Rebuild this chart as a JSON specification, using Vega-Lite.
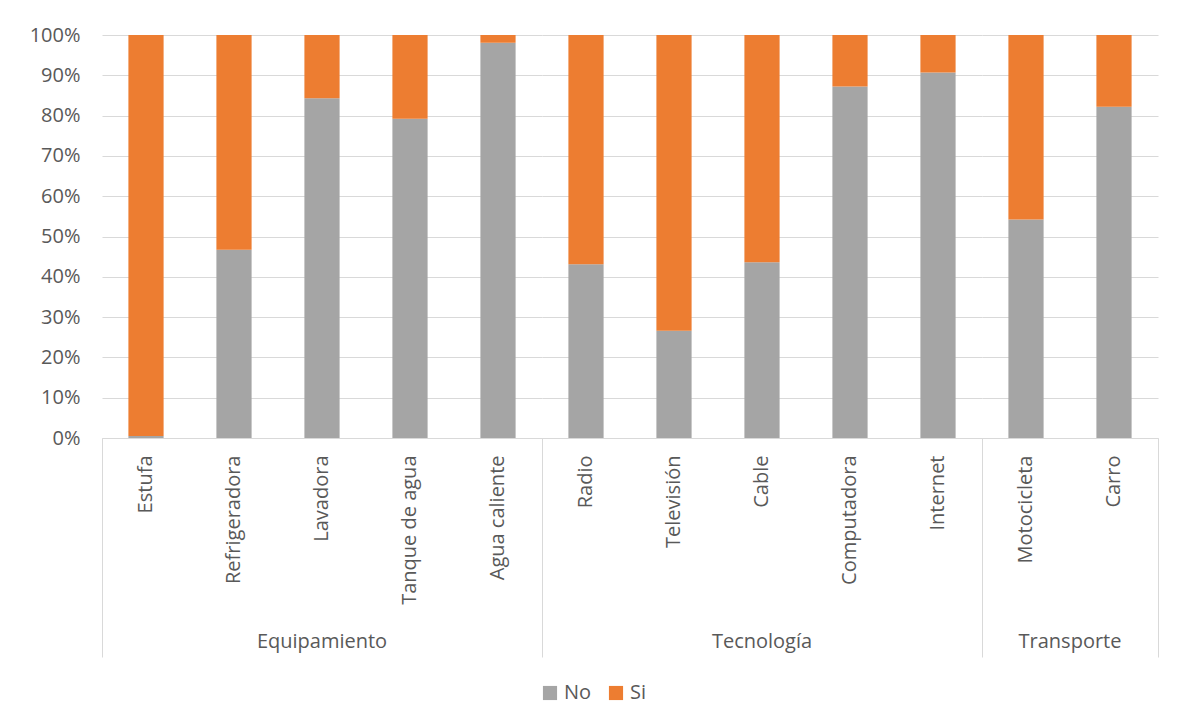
{
  "$schema": "https://vega.github.io/schema/vega-lite/v6.json",
  "background": "white",
  "padding": {"left": 29, "top": 25, "right": 19, "bottom": 10},
  "bounds": "flush",
  "data": {
    "values": [
      {"grupo": "Equipamiento", "articulo": "Estufa", "orden": 1, "respuesta": "No", "pct": 0.005},
      {"grupo": "Equipamiento", "articulo": "Estufa", "orden": 1, "respuesta": "Si", "pct": 0.995},
      {"grupo": "Equipamiento", "articulo": "Refrigeradora", "orden": 2, "respuesta": "No", "pct": 0.467},
      {"grupo": "Equipamiento", "articulo": "Refrigeradora", "orden": 2, "respuesta": "Si", "pct": 0.533},
      {"grupo": "Equipamiento", "articulo": "Lavadora", "orden": 3, "respuesta": "No", "pct": 0.843},
      {"grupo": "Equipamiento", "articulo": "Lavadora", "orden": 3, "respuesta": "Si", "pct": 0.157},
      {"grupo": "Equipamiento", "articulo": "Tanque de agua", "orden": 4, "respuesta": "No", "pct": 0.792},
      {"grupo": "Equipamiento", "articulo": "Tanque de agua", "orden": 4, "respuesta": "Si", "pct": 0.208},
      {"grupo": "Equipamiento", "articulo": "Agua caliente", "orden": 5, "respuesta": "No", "pct": 0.981},
      {"grupo": "Equipamiento", "articulo": "Agua caliente", "orden": 5, "respuesta": "Si", "pct": 0.019},
      {"grupo": "Tecnología", "articulo": "Radio", "orden": 6, "respuesta": "No", "pct": 0.431},
      {"grupo": "Tecnología", "articulo": "Radio", "orden": 6, "respuesta": "Si", "pct": 0.569},
      {"grupo": "Tecnología", "articulo": "Televisión", "orden": 7, "respuesta": "No", "pct": 0.266},
      {"grupo": "Tecnología", "articulo": "Televisión", "orden": 7, "respuesta": "Si", "pct": 0.734},
      {"grupo": "Tecnología", "articulo": "Cable", "orden": 8, "respuesta": "No", "pct": 0.436},
      {"grupo": "Tecnología", "articulo": "Cable", "orden": 8, "respuesta": "Si", "pct": 0.564},
      {"grupo": "Tecnología", "articulo": "Computadora", "orden": 9, "respuesta": "No", "pct": 0.872},
      {"grupo": "Tecnología", "articulo": "Computadora", "orden": 9, "respuesta": "Si", "pct": 0.128},
      {"grupo": "Tecnología", "articulo": "Internet", "orden": 10, "respuesta": "No", "pct": 0.907},
      {"grupo": "Tecnología", "articulo": "Internet", "orden": 10, "respuesta": "Si", "pct": 0.093},
      {"grupo": "Transporte", "articulo": "Motocicleta", "orden": 11, "respuesta": "No", "pct": 0.542},
      {"grupo": "Transporte", "articulo": "Motocicleta", "orden": 11, "respuesta": "Si", "pct": 0.458},
      {"grupo": "Transporte", "articulo": "Carro", "orden": 12, "respuesta": "No", "pct": 0.822},
      {"grupo": "Transporte", "articulo": "Carro", "orden": 12, "respuesta": "Si", "pct": 0.178}
    ]
  },
  "facet": {
    "column": {
      "field": "grupo",
      "type": "nominal",
      "sort": ["Equipamiento", "Tecnología", "Transporte"],
      "header": {
        "title": null,
        "labelOrient": "bottom",
        "labelFont": "Open Sans",
        "labelFontSize": 20,
        "labelColor": "#595959",
        "labelPadding": 194
      }
    }
  },
  "spacing": 0,
  "resolve": {"scale": {"x": "independent"}},
  "spec": {
    "width": {"step": 88},
    "height": 403,
    "mark": {"type": "bar", "width": {"band": 0.4}},
    "encoding": {
      "x": {
        "field": "articulo",
        "type": "nominal",
        "sort": {"field": "orden"},
        "scale": {"paddingInner": 0, "paddingOuter": 0},
        "axis": {
          "title": null,
          "labelAngle": 270,
          "labelFont": "Open Sans",
          "labelFontSize": 20,
          "labelColor": "#595959",
          "domainColor": "#d9d9d9",
          "domainWidth": 1,
          "bandPosition": 1,
          "tickExtra": true,
          "tickSize": 219,
          "tickWidth": 1,
          "tickColor": {
            "condition": {"test": "datum.extra || datum.value === 'Carro'", "value": "#d9d9d9"},
            "value": "transparent"
          },
          "labelPadding": -202
        }
      },
      "y": {
        "field": "pct",
        "type": "quantitative",
        "stack": "zero",
        "scale": {"domain": [0, 1], "nice": false},
        "axis": {
          "title": null,
          "format": ".0%",
          "values": [0, 0.1, 0.2, 0.3, 0.4, 0.5, 0.6, 0.7, 0.8, 0.9, 1],
          "labelOverlap": false,
          "domain": false,
          "ticks": false,
          "labelPadding": 22,
          "labelFont": "Open Sans",
          "labelFontSize": 20,
          "labelColor": "#595959",
          "gridColor": "#d9d9d9",
          "gridWidth": 1
        }
      },
      "color": {
        "field": "respuesta",
        "type": "nominal",
        "scale": {"domain": ["No", "Si"], "range": ["#a5a5a5", "#ed7d31"]},
        "legend": {
          "title": null,
          "orient": "bottom",
          "direction": "horizontal",
          "symbolType": "square",
          "symbolSize": 200,
          "symbolStrokeWidth": 0,
          "labelFont": "Open Sans",
          "labelFontSize": 20,
          "labelColor": "#595959",
          "columnPadding": 14,
          "offset": 25
        }
      },
      "order": {"field": "respuesta", "sort": "ascending"}
    }
  },
  "config": {
    "view": {"stroke": null},
    "legend": {"layout": {"bottom": {"anchor": "middle"}}}
  }
}
